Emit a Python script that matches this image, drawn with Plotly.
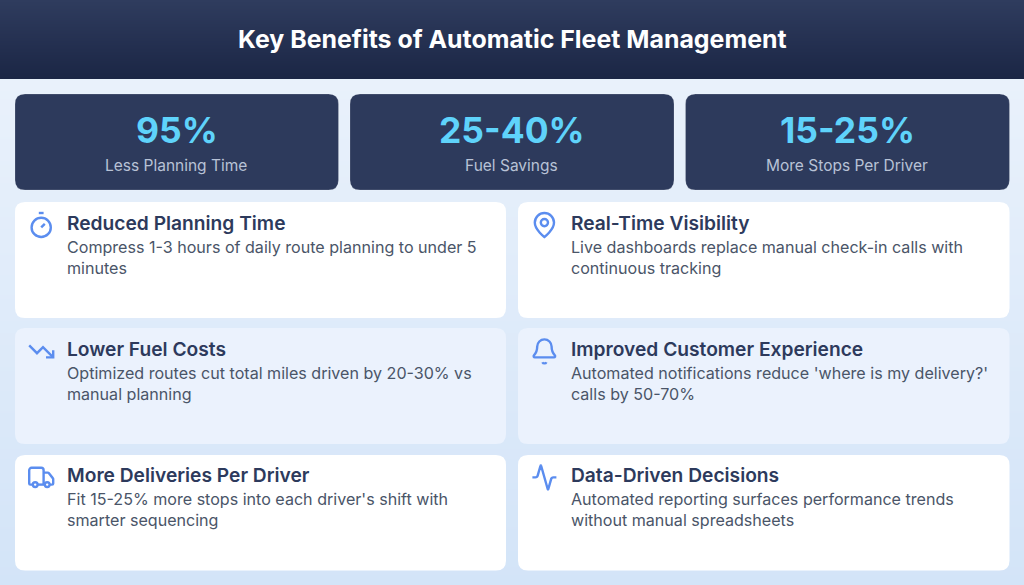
import re
import plotly.graph_objects as go

TITLE = "Key Benefits of Automatic Fleet Management"
stat_values = ["95%", "25-40%", "15-25%"]
stat_labels = ["Less Planning Time", "Fuel Savings", "More Stops Per Driver"]
benefit_titles = ["Reduced Planning Time", "Real-Time Visibility", "Lower Fuel Costs",
                  "Improved Customer Experience", "More Deliveries Per Driver", "Data-Driven Decisions"]
benefit_texts = [
    "Compress 1-3 hours of daily route planning to under 5<br>minutes",
    "Live dashboards replace manual check-in calls with<br>continuous tracking",
    "Optimized routes cut total miles driven by 20-30% vs<br>manual planning",
    "Automated notifications reduce 'where is my delivery?'<br>calls by 50-70%",
    "Fit 15-25% more stops into each driver's shift with<br>smarter sequencing",
    "Automated reporting surfaces performance trends<br>without manual spreadsheets",
]
icon_names = ["timer", "pin", "down", "bell", "truck", "activity"]

W, H = 1024, 585
FONT = "Inter"
ICON = "#5b8def"


def lerp(a, b, t):
    return "#%02x%02x%02x" % tuple(round(a[i] + (b[i] - a[i]) * t) for i in range(3))


def rrect(x0, y0, x1, y1, r):
    return (f"M{x0+r},{y0} L{x1-r},{y0} Q{x1},{y0} {x1},{y0+r} L{x1},{y1-r} Q{x1},{y1} {x1-r},{y1} "
            f"L{x0+r},{y1} Q{x0},{y1} {x0},{y1-r} L{x0},{y0+r} Q{x0},{y0} {x0+r},{y0} Z")


shapes = []
for y in range(79, H, 2):
    t = (y - 79) / (H - 79)
    shapes.append(dict(type="rect", x0=0, x1=W, y0=y, y1=y + 2, line_width=0,
                       fillcolor=lerp((233, 241, 251), (211, 228, 248), t), layer="below"))
for y in range(0, 79):
    t = y / 78
    shapes.append(dict(type="rect", x0=0, x1=W, y0=y, y1=y + 1, line_width=0,
                       fillcolor=lerp((47, 60, 94), (27, 38, 69), t), layer="below"))


def card(x0, y0, x1, y1, fill, line="rgba(0,0,0,0)", lw=0):
    shapes.append(dict(type="path", path=rrect(x0, y0, x1, y1, 10), fillcolor=fill,
                       line=dict(color=line, width=lw), layer="below"))


stat_x = [(15, 338.5), (350, 674), (685.5, 1009.5)]
for x0, x1 in stat_x:
    card(x0, 94, x1, 190, "#2d3a5c", "rgba(255,255,255,0.18)", 1)

ben_x = [(15, 506), (518, 1009.5)]
ben_y = [(202, 318), (328, 444), (455, 570.5)]
ben_fill = ["#ffffff", "#ebf2fd", "#ffffff"]
for i, (y0, y1) in enumerate(ben_y):
    for x0, x1 in ben_x:
        card(x0, y0, x1, y1, ben_fill[i])

K = 0.5523


def circ(cx, cy, r):
    k = r * K
    return (f"M{cx+r},{cy} C{cx+r},{cy+k} {cx+k},{cy+r} {cx},{cy+r} C{cx-k},{cy+r} {cx-r},{cy+k} {cx-r},{cy} "
            f"C{cx-r},{cy-k} {cx-k},{cy-r} {cx},{cy-r} C{cx+k},{cy-r} {cx+r},{cy-k} {cx+r},{cy} Z")


ICONS = {
    "timer": ["M10,2 L14,2", "M12,14 L15,11", circ(12, 14, 8)],
    "pin": ["M20,10 C20,16 12,22 12,22 C12,22 4,16 4,10 C4,5.6 7.6,2 12,2 C16.4,2 20,5.6 20,10 Z", circ(12, 10, 3)],
    "down": ["M22,17 L13.5,8.5 L8.5,13.5 L2,7", "M16,17 L22,17 L22,11"],
    "bell": ["M10.3,21 C10.6,21.6 11.3,22 12,22 C12.7,22 13.4,21.6 13.7,21",
             "M3.3,15.3 C3,15.6 3,16 3.1,16.4 C3.3,16.8 3.6,17 4,17 L20,17 C20.4,17 20.7,16.8 20.9,16.4 "
             "C21,16 21,15.6 20.7,15.3 C19.4,14 18,12.6 18,8 C18,4.7 15.3,2 12,2 C8.7,2 6,4.7 6,8 C6,12.6 4.6,14 3.3,15.3 Z"],
    "truck": ["M14,18 L14,6 C14,4.9 13.1,4 12,4 L4,4 C2.9,4 2,4.9 2,6 L2,17 C2,17.6 2.4,18 3,18 L5,18",
              "M15,18 L9,18",
              "M19,18 L21,18 C21.6,18 22,17.6 22,17 L22,13.4 C22,13.2 21.9,12.9 21.8,12.8 L18.3,8.4 C18.1,8.1 17.8,8 17.5,8 L14,8",
              circ(17, 18, 2), circ(7, 18, 2)],
    "activity": ["M22,12 L19.5,12 C18.6,12 17.8,12.6 17.6,13.5 L15.2,21.9 C15.15,22.1 14.85,22.1 14.8,21.9 "
                 "L9.2,2.1 C9.15,1.9 8.85,1.9 8.8,2.1 L6.4,10.5 C6.2,11.4 5.4,12 4.5,12 L2,12"],
}


def place(path, ox, oy, s):
    def sub(m):
        return f"{float(m.group(1))*s+ox:.2f},{float(m.group(2))*s+oy:.2f}"
    return re.sub(r"(-?[\d.]+),(-?[\d.]+)", sub, path)


ICON_SCALE = 1.2
icon_origin = [(26.8, 210.6), (530, 210.6), (26.8, 337), (530, 337), (26.8, 463), (530, 463)]
for name, (ox, oy) in zip(icon_names, icon_origin):
    for p in ICONS[name]:
        shapes.append(dict(type="path", path=place(p, ox, oy, ICON_SCALE),
                           line=dict(color=ICON, width=2.4), fillcolor="rgba(0,0,0,0)", layer="above"))

annotations = [dict(x=512, y=39, text=TITLE, showarrow=False, xanchor="center", yanchor="middle",
                    font=dict(family=FONT, size=24.9, weight=700, color="#ffffff"))]
for (x0, x1), v, l in zip(stat_x, stat_values, stat_labels):
    cx = (x0 + x1) / 2
    annotations.append(dict(x=cx, y=130, text=v, showarrow=False, xanchor="center", yanchor="middle",
                            font=dict(family=FONT, size=35.5, weight=700, color="#5fd3fb")))
    annotations.append(dict(x=cx, y=165, text=l, showarrow=False, xanchor="center", yanchor="middle",
                            xshift=-0.7, font=dict(family=FONT, size=15.5, color="#b8c2d6")))
text_x = [68, 571.5]
text_y = [(223, 235), (349, 361), (475, 487)]
for i, (t, d) in enumerate(zip(benefit_titles, benefit_texts)):
    tx = text_x[i % 2]
    ty, dy = text_y[i // 2]
    annotations.append(dict(x=tx, y=ty, text=t, showarrow=False, xanchor="left", yanchor="middle",
                            xshift=-3, font=dict(family=FONT, size=19.2, weight=600, color="#2d3a5c")))
    annotations.append(dict(x=tx, y=dy, text=d, showarrow=False, xanchor="left", yanchor="top", align="left",
                            xshift=-3, font=dict(family=FONT, size=16.08, color="#4a5568")))

fig = go.Figure(go.Scatter(x=[0, W], y=[0, H], mode="markers", marker=dict(opacity=0), hoverinfo="skip"))
fig.update_layout(width=W, height=H, margin=dict(l=0, r=0, t=0, b=0), showlegend=False,
                  paper_bgcolor="#e3edf9", plot_bgcolor="rgba(0,0,0,0)", shapes=shapes, annotations=annotations,
                  xaxis=dict(range=[0, W], visible=False, fixedrange=True),
                  yaxis=dict(range=[H, 0], visible=False, fixedrange=True))
fig.write_html("out.html", config={"displayModeBar": False},
               post_script="document.body.style.margin='0';document.body.style.overflow='hidden';")
